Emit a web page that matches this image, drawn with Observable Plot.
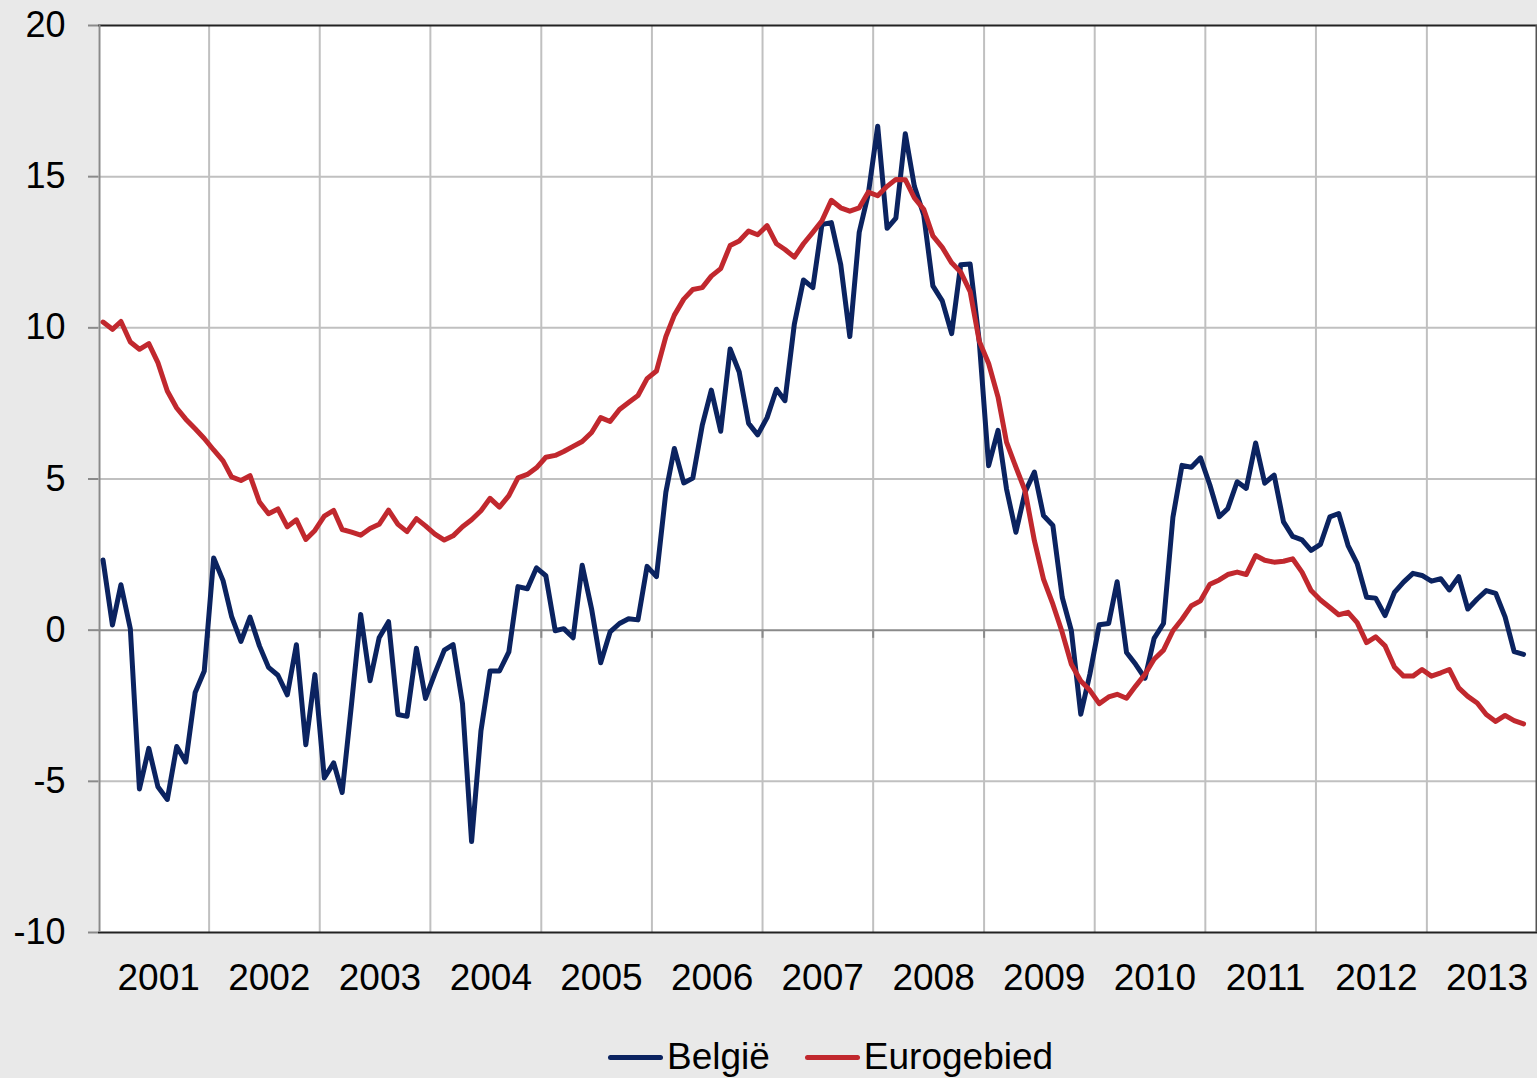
<!DOCTYPE html>
<html>
<head>
<meta charset="utf-8">
<script src="https://cdn.jsdelivr.net/npm/d3@7"></script>
<script src="https://cdn.jsdelivr.net/npm/@observablehq/plot@0.6"></script>
<style>
  html, body { margin: 0; padding: 0; background: #e9e9e9; }
  body { width: 1537px; height: 1078px; overflow: hidden; font-family: "Liberation Sans", Arial, sans-serif; }
  #legend { display: flex; justify-content: flex-start; align-items: center; height: 54px; font-size: 37px; color: #000; padding-left: 608px; }
  .item { display: flex; align-items: center; margin-right: 35px; }
  .swatch { width: 55px; height: 5px; border-radius: 3px; margin-right: 4px; }
</style>
</head>
<body>
<div id="chart"></div>
<div id="legend"></div>
<script>
const startYear = 2001;
const years = [2001, 2002, 2003, 2004, 2005, 2006, 2007, 2008, 2009, 2010, 2011, 2012, 2013];
const yTicks = [-10, -5, 0, 5, 10, 15, 20];
const seriesNames = ["België", "Eurogebied"];
const seriesColors = ["#0b2360", "#c1282e"];

const belgie = [
  2.32, 0.17, 1.50, 0.05, -5.25, -3.91, -5.18, -5.60, -3.85, -4.36, -2.06, -1.35,
  2.39, 1.64, 0.46, -0.37, 0.43, -0.52, -1.23, -1.49, -2.14, -0.48, -3.79, -1.47,
  -4.89, -4.39, -5.37, -2.43, 0.52, -1.67, -0.25, 0.28, -2.79, -2.85, -0.60, -2.26,
  -1.43, -0.66, -0.48, -2.43, -6.99, -3.32, -1.35, -1.35, -0.72, 1.44, 1.37, 2.06,
  1.80, -0.02, 0.05, -0.25, 2.15, 0.70, -1.08, -0.06, 0.22, 0.38, 0.34, 2.11,
  1.77, 4.56, 6.01, 4.87, 5.03, 6.77, 7.94, 6.58, 9.30, 8.54, 6.84, 6.46,
  7.03, 7.97, 7.59, 10.13, 11.58, 11.33, 13.42, 13.48, 12.09, 9.71, 13.16, 14.43,
  16.67, 13.29, 13.63, 16.42, 14.68, 13.73, 11.39, 10.89, 9.81, 12.09, 12.11, 9.56,
  5.44, 6.61, 4.67, 3.24, 4.56, 5.23, 3.79, 3.46, 1.08, -0.02, -2.78, -1.46,
  0.18, 0.22, 1.60, -0.74, -1.13, -1.59, -0.27, 0.22, 3.73, 5.45, 5.39, 5.70,
  4.80, 3.75, 4.02, 4.91, 4.69, 6.19, 4.86, 5.13, 3.58, 3.10, 2.99, 2.64,
  2.84, 3.75, 3.86, 2.80, 2.20, 1.09, 1.06, 0.48, 1.25, 1.59, 1.88, 1.81,
  1.62, 1.70, 1.33, 1.77, 0.70, 1.03, 1.31, 1.22, 0.44, -0.71, -0.80
];

const eurogebied = [
  10.19, 9.95, 10.21, 9.53, 9.29, 9.48, 8.85, 7.91, 7.35, 6.98, 6.66, 6.34,
  5.96, 5.60, 5.07, 4.95, 5.11, 4.24, 3.85, 4.01, 3.42, 3.65, 3.00, 3.30,
  3.77, 3.96, 3.33, 3.24, 3.14, 3.36, 3.50, 3.97, 3.50, 3.26, 3.69, 3.45,
  3.18, 2.98, 3.12, 3.42, 3.65, 3.95, 4.36, 4.07, 4.45, 5.04, 5.15, 5.37,
  5.72, 5.78, 5.91, 6.08, 6.24, 6.54, 7.03, 6.90, 7.30, 7.53, 7.76, 8.32,
  8.57, 9.71, 10.42, 10.95, 11.27, 11.33, 11.71, 11.96, 12.72, 12.87, 13.20, 13.08,
  13.38, 12.78, 12.59, 12.34, 12.78, 13.16, 13.54, 14.22, 13.97, 13.86, 13.97, 14.49,
  14.37, 14.68, 14.91, 14.90, 14.30, 13.92, 13.04, 12.66, 12.15, 11.84, 11.20, 9.56,
  8.82, 7.71, 6.22, 5.39, 4.62, 2.96, 1.69, 0.86, -0.08, -1.13, -1.68, -1.99,
  -2.43, -2.21, -2.12, -2.25, -1.85, -1.46, -0.96, -0.66, -0.02, 0.36, 0.81, 0.97,
  1.52, 1.66, 1.84, 1.92, 1.84, 2.47, 2.31, 2.25, 2.28, 2.36, 1.92, 1.31,
  1.00, 0.75, 0.51, 0.59, 0.25, -0.41, -0.22, -0.52, -1.22, -1.52, -1.52, -1.30,
  -1.52, -1.41, -1.30, -1.91, -2.19, -2.41, -2.79, -3.02, -2.82, -2.99, -3.10
];

// Build long table (mid-month dates)
const monthDate = i => new Date(Date.UTC(startYear, i, 16));
const data = [];
[belgie, eurogebied].forEach((arr, s) => {
  arr.forEach((v, i) => data.push({date: monthDate(i), value: v, series: seriesNames[s]}));
});

const domainStart = new Date(Date.UTC(years[0], 0, 1));
const domainEnd = new Date(Date.UTC(years[years.length - 1] + 1, 0, 1));
const yearStarts = years.slice(1).map(y => new Date(Date.UTC(y, 0, 1)));
const midYears = years.map(y => new Date(Date.UTC(y, 6, 2)));

const chart = Plot.plot({
  width: 1537,
  height: 1030,
  marginLeft: 98,
  marginRight: 0,
  marginTop: 25,
  marginBottom: 98,
  style: {background: "transparent", fontFamily: "'Liberation Sans', Arial, sans-serif", color: "#000"},
  x: {type: "utc", domain: [domainStart, domainEnd]},
  y: {domain: [-10, 20]},
  color: {domain: seriesNames, range: seriesColors},
  marks: [
    Plot.frame({fill: "white", stroke: null}),
    Plot.ruleY(yTicks.filter(d => d !== 0 && d !== 20 && d !== -10), {stroke: "#c0c0c0", strokeWidth: 2}),
    Plot.ruleX(yearStarts, {stroke: "#c0c0c0", strokeWidth: 2}),
    Plot.ruleY([0], {stroke: "#8a8a8a", strokeWidth: 2}),
    Plot.ruleX(yearStarts, {y1: 0, y2: -0.27, stroke: "#8a8a8a", strokeWidth: 2}),
    Plot.ruleY([20, -10], {stroke: "#222", strokeWidth: 2}),
    Plot.ruleX([domainEnd], {stroke: "#555", strokeWidth: 2, dx: -1}),
    Plot.ruleX([domainStart], {stroke: "#8a8a8a", strokeWidth: 2, dx: 1}),
    Plot.axisY({ticks: yTicks, tickSize: 10, tickPadding: 23, fontSize: 36, stroke: "#8a8a8a", strokeWidth: 2, label: null, tickFormat: d => String(d)}),
    Plot.axisX({ticks: midYears, tickSize: 0, tickPadding: 31, dx: 5, fontSize: 37, label: null, tickFormat: d => String(d.getUTCFullYear())}),
    Plot.line(data, {x: "date", y: "value", z: "series", stroke: "series", strokeWidth: 5, strokeLinejoin: "round", strokeLinecap: "round"})
  ]
});

document.getElementById("chart").appendChild(chart);

const legend = document.getElementById("legend");
seriesNames.forEach((name, i) => {
  const item = document.createElement("div");
  item.className = "item";
  const sw = document.createElement("div");
  sw.className = "swatch";
  sw.style.background = seriesColors[i];
  const lab = document.createElement("span");
  lab.textContent = name;
  item.appendChild(sw);
  item.appendChild(lab);
  legend.appendChild(item);
});
</script>
</body>
</html>
